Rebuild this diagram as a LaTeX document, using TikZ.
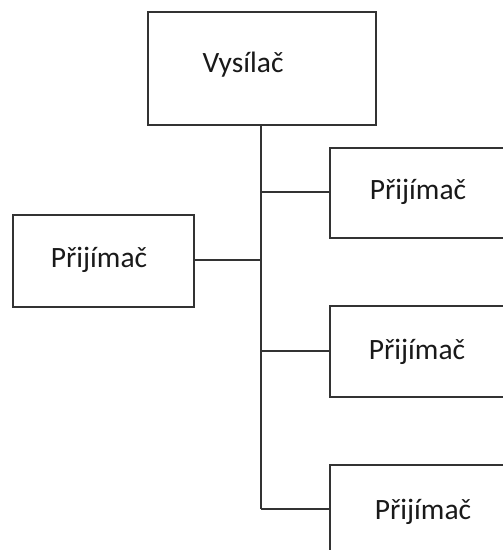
\documentclass[tikz,border=0pt]{standalone}
\usepackage{fontspec}
\setmainfont{Carlito}
\begin{document}
\begin{tikzpicture}[x=1pt,y=-1pt,
  box/.style={draw=black!80,line width=1.8pt,rectangle,inner sep=0pt,anchor=north west},
  lbl/.style={font=\fontsize{29.5}{32}\selectfont,text=black!90,inner sep=0pt},
  wire/.style={draw=black!80,line width=1.8pt}]
\useasboundingbox (0,0) rectangle (503,550);
\clip (0,0) rectangle (503,550);
% boxes
\node[box,minimum width=228pt,minimum height=113pt] (tx) at (147,11) {};
\node[box,minimum width=200pt,minimum height=90pt] (r1) at (329,147) {};
\node[box,minimum width=181pt,minimum height=92pt] (l1) at (12,214) {};
\node[box,minimum width=200pt,minimum height=91pt] (r2) at (329,305) {};
\node[box,minimum width=200pt,minimum height=120pt] (r3) at (329,464) {};
% labels
\node[lbl] (ttx) at (243,65) {Vysílač};
\node[lbl] (tr1) at (418,192) {Přijímač};
\node[lbl] (tl1) at (99,260) {Přijímač};
\node[lbl] (tr2) at (417,352) {Přijímač};
\node[lbl] (tr3) at (423,512) {Přijímač};
% trunk junctions
\coordinate (j1) at (261,192);
\coordinate (j0) at (261,260);
\coordinate (j2) at (261,351);
\coordinate (j3) at (261,509);
\draw[wire] (tx.south -| j3) -- (j3);
\draw[wire] (j1) -- (r1.west |- j1);
\draw[wire] (l1.east |- j0) -- (j0);
\draw[wire] (j2) -- (r2.west |- j2);
\draw[wire] (j3) -- (r3.west |- j3);
\end{tikzpicture}
\end{document}
